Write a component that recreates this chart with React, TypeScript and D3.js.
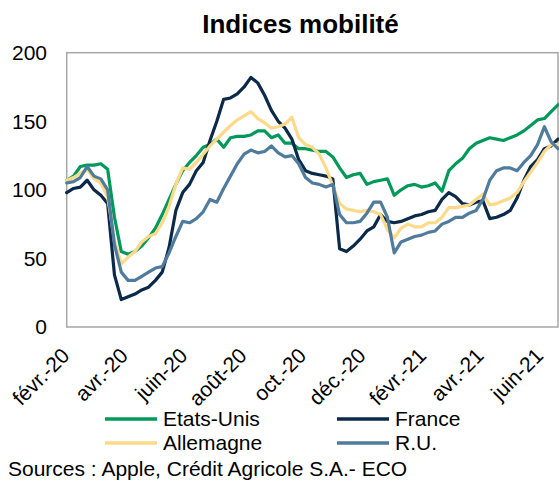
import React from "react";
import * as d3 from "d3";

const startDate = new Date(Date.UTC(2020, 1, 1));

const tickLabels = ["févr.-20", "avr.-20", "juin-20", "août-20", "oct.-20", "déc.-20", "févr.-21", "avr.-21", "juin-21"];
const yTicks = [0, 50, 100, 150, 200];

// weekly values, starting 1 Feb 2020
const etatsUnis = [
  107, 110, 117, 118, 118, 119, 115, 80, 55, 53,
  55, 59, 65, 72, 82, 93, 104, 114, 120, 125,
  131, 133, 137, 131, 138, 139, 139, 140, 143, 143,
  138, 140, 134, 134, 130, 130, 129, 128, 128, 124,
  116, 109, 111, 112, 104, 106, 107, 108, 96, 100,
  103, 104, 102, 103, 105, 99, 114, 119, 123, 130,
  134, 136, 138, 137, 136, 138, 140, 143, 147, 151,
  152, 157, 162,
];
const france = [
  98, 101, 102, 107, 100, 96, 90, 38, 20, 22,
  24, 27, 29, 34, 40, 58, 85, 98, 104, 114,
  120, 136, 150, 166, 167, 170, 175, 182, 178, 169,
  158, 150, 145, 137, 122, 114, 112, 111, 110, 108,
  57, 55, 59, 64, 70, 73, 82, 77, 76, 77,
  79, 81, 82, 84, 85, 93, 98, 95, 90, 89,
  91, 92, 79, 80, 82, 85, 94, 107, 117, 122,
  130, 132, 137,
];
const allemagne = [
  107, 109, 112, 115, 108, 105, 95, 63, 46, 51,
  55, 62, 66, 68, 76, 88, 104, 116, 115, 120,
  126, 132, 137, 142, 147, 151, 154, 157, 152, 149,
  145, 146, 148, 153, 138, 133, 131, 126, 116, 103,
  90, 86, 85, 84, 85, 84, 82, 71, 65, 72,
  75, 73, 73, 76, 76, 80, 87, 87, 88, 89,
  93, 97, 89, 90, 92, 94, 98, 106, 113, 120,
  128, 133, 133,
];
const ru = [
  105, 106, 109, 117, 110, 108, 100, 60, 40, 34,
  34, 37, 40, 43, 44, 54, 66, 77, 76, 79,
  84, 93, 91, 101, 110, 119, 126, 129, 127, 128,
  132, 127, 124, 125, 119, 109, 105, 104, 102, 104,
  82, 76, 76, 77, 83, 91, 91, 80, 54, 62,
  64, 66, 67, 69, 70, 75, 77, 80, 80, 83,
  85, 93, 107, 114, 116, 116, 114, 120, 125, 133,
  146, 135, 130,
];

const seriesNames = ["Etats-Unis", "France", "Allemagne", "R.U."];
const seriesColors = ["#00995a", "#0b2a4a", "#fdd98a", "#4f7b9c"];
const seriesValues = [etatsUnis, france, allemagne, ru];

const W = 559;
const H = 482;
const M = { left: 66.7, right: 558, top: 52.7, bottom: 327 };
const FONT = "'Liberation Sans', Arial, sans-serif";

export default function App() {
  const dates = etatsUnis.map((_, i) => d3.utcDay.offset(startDate, 7 * i));
  const x = d3.scaleUtc().domain([startDate, dates[dates.length - 1]]).range([M.left, M.right]);
  const y = d3.scaleLinear().domain([0, 200]).range([M.bottom, M.top]);
  const line = d3
    .line<number>()
    .x((_, i) => x(dates[i]))
    .y((v) => y(v));
  const tickDates = d3.utcMonth.range(startDate, d3.utcDay.offset(dates[dates.length - 1], 1), 2);

  const legend = [
    { i: 0, lx: 105, ly: 419 },
    { i: 1, lx: 337, ly: 419 },
    { i: 2, lx: 105, ly: 443 },
    { i: 3, lx: 337, ly: 443 },
  ];

  return (
    <svg width={W} height={H} style={{ position: "absolute", left: 0, top: 0, background: "#fff" }} fontFamily={FONT}>
      <rect x={0} y={0} width={W} height={H} fill="#fff" />
      <text x={300.5} y={33} textAnchor="middle" fontSize={26} fontWeight="bold" fill="#000">
        Indices mobilité
      </text>
      <rect
        x={M.left}
        y={M.top}
        width={M.right - M.left}
        height={M.bottom - M.top}
        fill="none"
        stroke="#a6a6a6"
        strokeWidth={1.5}
      />
      {yTicks.map((t) => (
        <text key={t} x={47} y={y(t)} dy="0.35em" textAnchor="end" fontSize={21} fill="#000">
          {t}
        </text>
      ))}
      {tickDates.map((d, i) => (
        <text
          key={i}
          transform={`translate(${x(d) + 4},${357}) rotate(-45)`}
          textAnchor="end"
          fontSize={21}
          fill="#000"
        >
          {tickLabels[i]}
        </text>
      ))}
      <g>
        {seriesValues.map((vals, s) => (
          <path
            key={s}
            d={line(vals) || ""}
            fill="none"
            stroke={seriesColors[s]}
            strokeWidth={3.2}
            strokeLinejoin="round"
            strokeLinecap="round"
          />
        ))}
      </g>
      {legend.map(({ i, lx, ly }) => (
        <g key={i}>
          <line x1={lx} x2={lx + 52} y1={ly} y2={ly} stroke={seriesColors[i]} strokeWidth={3.5} />
          <text x={lx + 58} y={ly} dy="0.35em" fontSize={21} fill="#000">
            {seriesNames[i]}
          </text>
        </g>
      ))}
      <text x={8} y={476} fontSize={21} fill="#000">
        Sources : Apple, Crédit Agricole S.A.- ECO
      </text>
    </svg>
  );
}
